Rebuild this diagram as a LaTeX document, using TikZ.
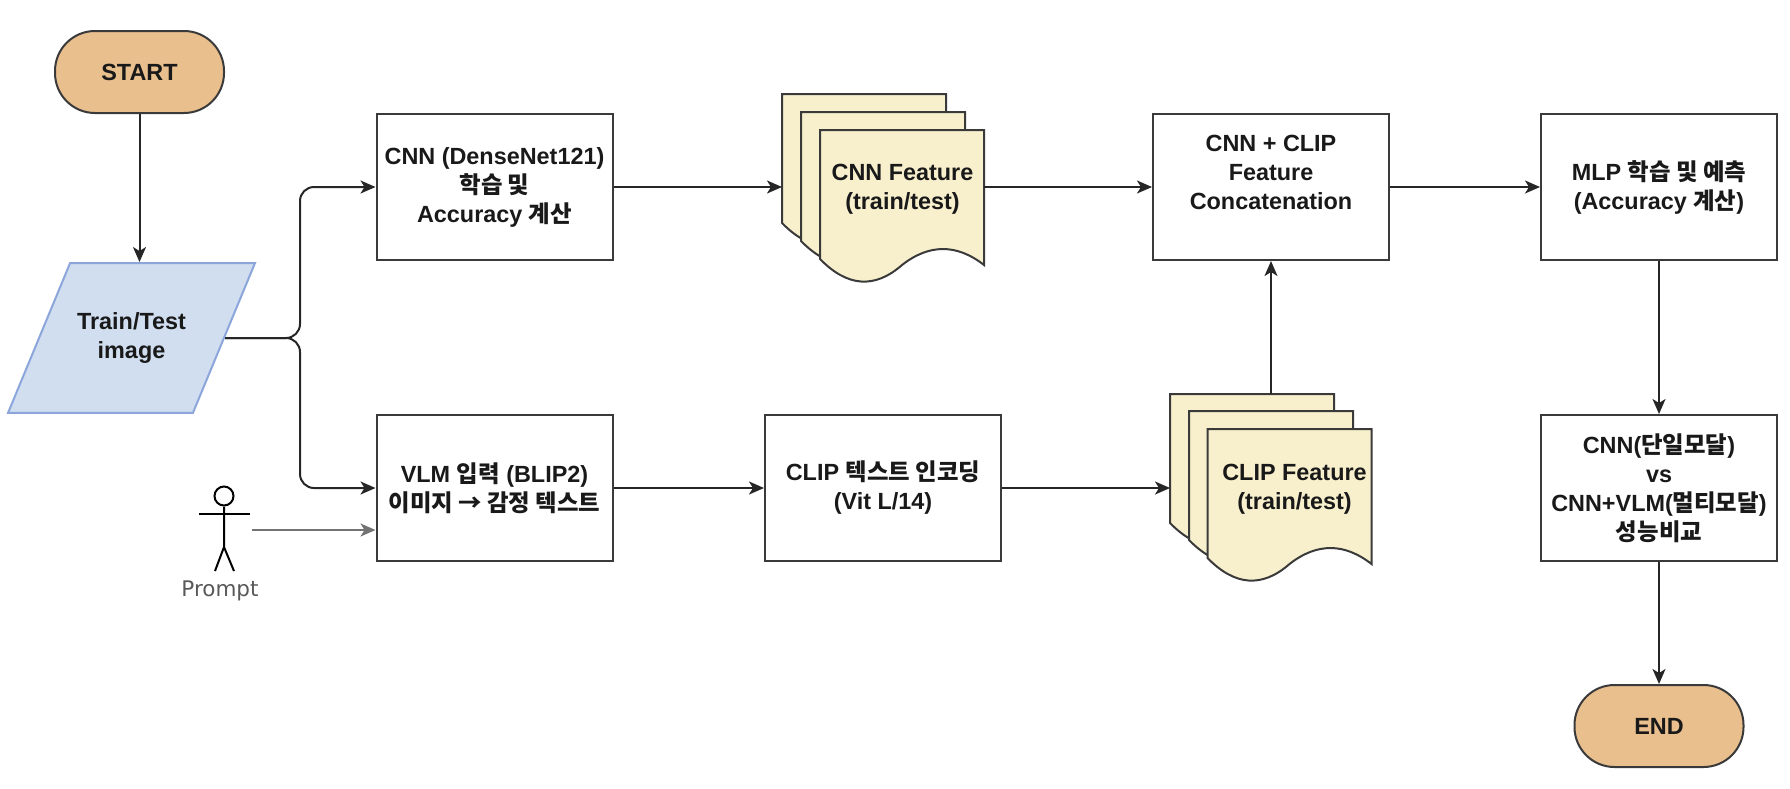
\documentclass[tikz,border=0pt]{standalone}
\usepackage{fontspec}
\usepackage{xcolor}
\usepackage{tikz}
\usetikzlibrary{arrows.meta,positioning,calc,shapes.geometric}
\setmainfont{Liberation Sans}
\newfontfamily\kofont{Noto Sans CJK KR}
\newfontfamily\promptfont{DejaVu Sans}
\definecolor{flowpeach}{HTML}{E9BF8E}
\definecolor{flowblue}{HTML}{D0DEF0}
\definecolor{flowborder}{HTML}{8CA6DB}
\definecolor{flowsheet}{HTML}{F8F0CD}
\definecolor{flowline}{HTML}{3A3A3A}
\newcommand{\ko}[1]{{\kofont #1}}
% one wavy sheet of a stack, text goes on top later
\newcommand{\sheet}[2]{
  \node[sheetbox] (#1) at (#2) {};
  \draw[sheetline] (#1.north west) -- (#1.north east) -- (#1.south east)
    .. controls ([shift={(-27.3,-21.3)}]#1.south east) and ([shift={(-54.7,-21.3)}]#1.south east) .. ([xshift=-82pt]#1.south east)
    .. controls ([shift={(-109.3,24)}]#1.south east) and ([shift={(-136.7,22)}]#1.south east) .. ([yshift=6pt]#1.south west)
    -- cycle;
}

\begin{document}
\begin{tikzpicture}[
  x=1pt, y=-1pt,
  labeltext/.style={align=center, text=black!90, font=\fontsize{23.4}{29}\selectfont\bfseries, inner sep=0pt},
  terminal/.style={draw=flowline, line width=2pt, rounded corners=40pt, fill=flowpeach, minimum width=169pt, minimum height=82pt, labeltext},
  procbox/.style={draw=flowline, line width=2pt, fill=white, minimum width=236pt, minimum height=146pt, labeltext},
  inputbox/.style={draw=flowborder, line width=2pt, fill=flowblue, trapezium, trapezium left angle=67.5, trapezium right angle=112.5, trapezium stretches body=true, minimum width=247pt, labeltext, inner xsep=0pt, inner ysep=49.5pt},
  sheetbox/.style={minimum width=164pt, minimum height=135pt, inner sep=0pt, outer sep=0pt},
  sheetline/.style={draw=flowline, line width=2pt, fill=flowsheet, line join=miter},
  edge/.style={-{Stealth[length=15pt,width=13pt,inset=4pt]}, draw=black!85, line width=2pt},
  stickline/.style={draw=black, line width=2pt}
]
\useasboundingbox (0,0) rectangle (1790,788);
\node[terminal] (start) at (139.5,72) {START};
\node[inputbox] (input) at (131.5,338) {Train/Test\\image};
\node[procbox] (cnn) at (494.5,187) {CNN (DenseNet121)\\\ko{학습 및}\\Accuracy \ko{계산}};
\node[procbox, below=153pt of cnn] (vlm) {VLM \ko{입력} (BLIP2)\\\ko{이미지 → 감정 텍스트}};
\node[procbox, right=150.5pt of vlm] (clipenc) {CLIP \ko{텍스트 인코딩}\\(Vit L/14)};
\node[procbox, right=538.5pt of cnn] (concat) {CNN + CLIP\\Feature\\Concatenation\\\mbox{}};
\node[procbox, right=150pt of concat] (mlp) {MLP \ko{학습 및 예측}\\(Accuracy \ko{계산})};
\node[procbox, below=153pt of mlp] (compare) {CNN(\ko{단일모달})\\vs\\CNN+VLM(\ko{멀티모달})\\\ko{성능비교}};
\node[terminal, below=122pt of compare] (finish) {END};
% feature stacks
\sheet{cnnback}{864,161.5}
\sheet{cnnmid}{883,179.5}
\sheet{cnnfront}{902,197.5}
\node[labeltext] (cnnlabel) at (902.5,189) {CNN Feature\\(train/test)};
\sheet{clipback}{1252,461.5}
\sheet{clipmid}{1271,478.5}
\sheet{clipfront}{1289.5,496.5}
\node[labeltext] (cliplabel) at (1294.5,489.5) {CLIP Feature\\(train/test)};
% prompt figure
\node[circle, stickline, minimum size=19pt, inner sep=0pt] (head) at (224,496) {};
\coordinate (armleft) at (199,514);
\coordinate (armright) at (250,514);
\coordinate (hips) at (224,547);
\coordinate (footleft) at (215,571);
\coordinate (footright) at (234,571);
\draw[stickline] (armleft) -- (armright);
\draw[stickline] (head.south) -- (hips) -- (footleft);
\draw[stickline] (hips) -- (footright);
\node[text=black!65, font=\promptfont\fontsize{21.5}{24}\selectfont, inner sep=0pt] (prompt) at (220,591) {Prompt};
\coordinate (promptout) at (252,530);
\coordinate (fork) at (300,338);
% connectors
\draw[edge] (start.south -| start) -- (start |- input.north);
\draw[edge, rounded corners=14pt] (input.east) -- (fork) |- (cnn.west);
\draw[edge, rounded corners=14pt] (input.east) -- (fork) |- (vlm.west);
\draw[edge, draw=black!55] (promptout) -- (promptout -| vlm.west);
\draw[edge] (cnn) -- (cnn -| cnnback.west);
\draw[edge] (cnn -| cnnfront.east) -- (concat);
\draw[edge] (vlm) -- (clipenc);
\draw[edge] (clipenc) -- (clipenc -| clipback.west);
\draw[edge] (concat |- clipback.north) -- (concat);
\draw[edge] (concat) -- (mlp);
\draw[edge] (mlp) -- (compare);
\draw[edge] (compare) -- (finish);
\end{tikzpicture}
\end{document}
